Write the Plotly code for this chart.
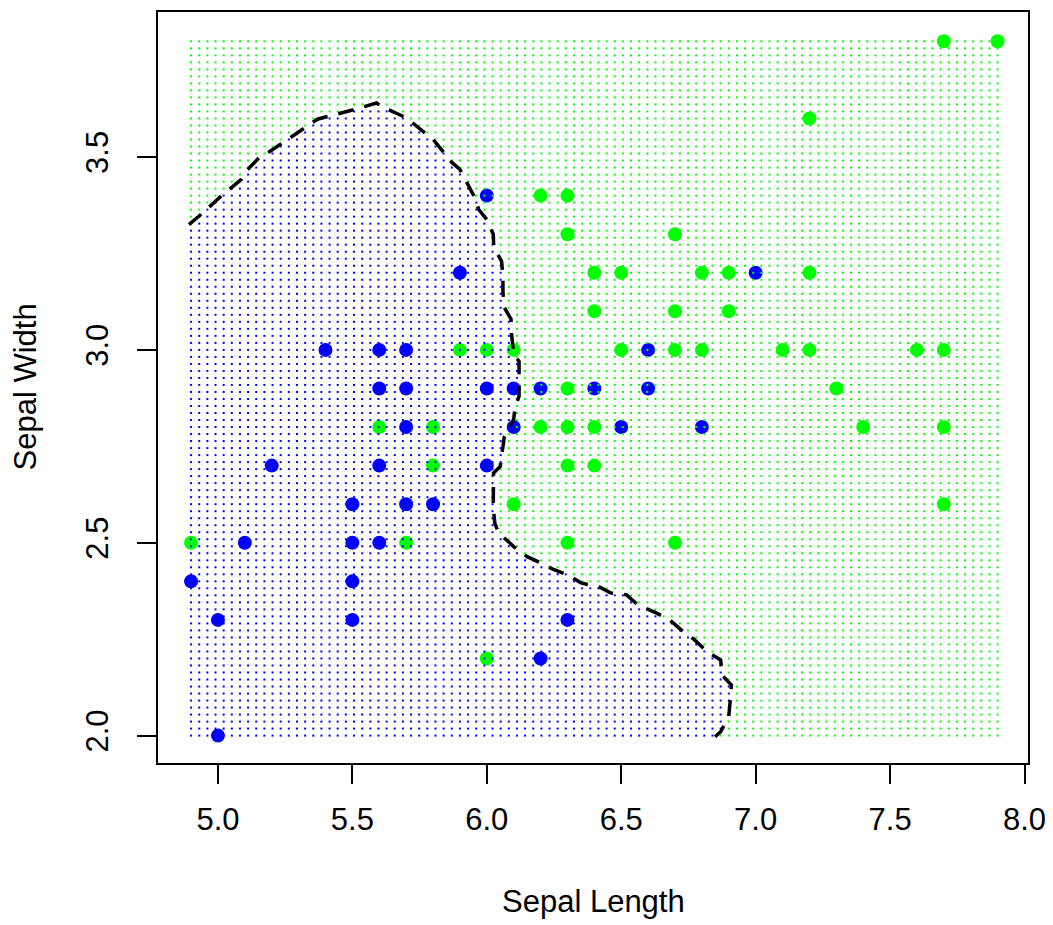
import numpy as np
import plotly.graph_objects as go

# ---- data ----
blue_x = [6.0, 5.9, 7.0, 5.4, 5.6, 5.7, 6.6, 5.6, 5.7, 6.0, 6.1, 6.2, 6.4, 6.6,
          5.7, 6.1, 6.5, 6.8, 5.2, 5.6, 6.0, 5.5, 5.7, 5.8, 5.1, 5.5, 5.6,
          4.9, 5.5, 5.0, 5.5, 6.3, 6.2, 5.0]
blue_y = [3.4, 3.2, 3.2, 3.0, 3.0, 3.0, 3.0, 2.9, 2.9, 2.9, 2.9, 2.9, 2.9, 2.9,
          2.8, 2.8, 2.8, 2.8, 2.7, 2.7, 2.7, 2.6, 2.6, 2.6, 2.5, 2.5, 2.5,
          2.4, 2.4, 2.3, 2.3, 2.3, 2.2, 2.0]

green_x = [7.7, 7.9, 7.2, 6.2, 6.3, 6.3, 6.7, 6.4, 6.5, 6.8, 6.9, 7.2,
           6.4, 6.7, 6.9, 5.9, 6.0, 6.1, 6.5, 6.7, 6.8, 7.1, 7.2, 7.6, 7.7,
           6.3, 7.3, 5.6, 5.8, 6.2, 6.3, 6.4, 7.4, 7.7, 5.8, 6.3, 6.4,
           6.1, 7.7, 4.9, 5.7, 6.3, 6.7, 6.0]
green_y = [3.8, 3.8, 3.6, 3.4, 3.4, 3.3, 3.3, 3.2, 3.2, 3.2, 3.2, 3.2,
           3.1, 3.1, 3.1, 3.0, 3.0, 3.0, 3.0, 3.0, 3.0, 3.0, 3.0, 3.0, 3.0,
           2.9, 2.9, 2.8, 2.8, 2.8, 2.8, 2.8, 2.8, 2.8, 2.7, 2.7, 2.7,
           2.6, 2.6, 2.5, 2.5, 2.5, 2.5, 2.2]

# decision boundary (dashed contour)
boundary_x = [4.892, 4.93, 5.006, 5.087, 5.10, 5.16, 5.19, 5.27, 5.37, 5.49, 5.59,
              5.61, 5.70, 5.80, 5.87, 5.90, 5.93, 5.955, 5.97, 6.00, 6.024, 6.026,
              6.055, 6.06, 6.06, 6.065, 6.09, 6.092, 6.10, 6.12, 6.12, 6.12, 6.105,
              6.10, 6.065, 6.06, 6.05, 6.025, 6.024, 6.024, 6.03, 6.045, 6.10, 6.15,
              6.20, 6.25, 6.30, 6.35, 6.42, 6.46, 6.52, 6.56, 6.63, 6.68, 6.73,
              6.77, 6.82, 6.87, 6.875, 6.91, 6.905, 6.90, 6.87, 6.849]
boundary_y = [3.325, 3.347, 3.395, 3.442, 3.46, 3.503, 3.513, 3.55, 3.598, 3.62, 3.64,
              3.63, 3.602, 3.546, 3.486, 3.468, 3.429, 3.395, 3.364, 3.338, 3.30, 3.266,
              3.23, 3.19, 3.15, 3.11, 3.08, 3.04, 2.99, 2.97, 2.92, 2.88, 2.85,
              2.82, 2.775, 2.747, 2.698, 2.681, 2.64, 2.59, 2.55, 2.525, 2.49, 2.464,
              2.448, 2.43, 2.417, 2.396, 2.385, 2.37, 2.365, 2.34, 2.318, 2.30, 2.27,
              2.25, 2.217, 2.196, 2.157, 2.131, 2.087, 2.05, 2.01, 1.997]

grid_x_range = (4.9, 7.9)
grid_y_range = (2.0, 3.8)
grid_n = 100

x_ticks = [5.0, 5.5, 6.0, 6.5, 7.0, 7.5, 8.0]
x_tick_labels = ["5.0", "5.5", "6.0", "6.5", "7.0", "7.5", "8.0"]
y_ticks = [2.0, 2.5, 3.0, 3.5]
y_tick_labels = ["2.0", "2.5", "3.0", "3.5"]

BLUE = "#0000FF"
GREEN = "#00FF00"
FONT = "Liberation Sans, Arial, sans-serif"
FS = 31

# ---- classify grid by the boundary region ----
gx = np.linspace(grid_x_range[0], grid_x_range[1], grid_n)
gy = np.linspace(grid_y_range[0], grid_y_range[1], grid_n)
GX, GY = np.meshgrid(gx, gy)
px = GX.ravel()
py = GY.ravel()

poly_x = np.array(boundary_x + [boundary_x[-1], 4.7, 4.7])
poly_y = np.array(boundary_y + [1.9, 1.9, boundary_y[0]])


def inside(xs, ys, vx, vy):
    res = np.zeros(xs.shape, dtype=bool)
    n = len(vx)
    j = n - 1
    for i in range(n):
        xi, yi, xj, yj = vx[i], vy[i], vx[j], vy[j]
        cond = ((yi > ys) != (yj > ys))
        with np.errstate(divide="ignore", invalid="ignore"):
            xint = (xj - xi) * (ys - yi) / (yj - yi) + xi
        res ^= cond & (xs < xint)
        j = i
    return res


ins = inside(px, py, poly_x, poly_y)

fig = go.Figure()

fig.add_trace(go.Scatter(x=blue_x, y=blue_y, mode="markers",
                         marker=dict(color=BLUE, size=14, line=dict(width=0)),
                         hoverinfo="skip", showlegend=False))
fig.add_trace(go.Scatter(x=green_x, y=green_y, mode="markers",
                         marker=dict(color=GREEN, size=14, line=dict(width=0)),
                         hoverinfo="skip", showlegend=False))

fig.add_trace(go.Scatter(x=px[ins], y=py[ins], mode="markers",
                         marker=dict(color=BLUE, size=2, symbol="square", line=dict(width=0)),
                         hoverinfo="skip", showlegend=False))
fig.add_trace(go.Scatter(x=px[~ins], y=py[~ins], mode="markers",
                         marker=dict(color=GREEN, size=2, symbol="square", line=dict(width=0)),
                         hoverinfo="skip", showlegend=False))

fig.add_trace(go.Scatter(x=boundary_x, y=boundary_y, mode="lines",
                         line=dict(color="black", width=3.5, dash="16px,11px"),
                         hoverinfo="skip", showlegend=False))

axis_common = dict(showgrid=False, zeroline=False, showline=True, mirror=True,
                   linecolor="black", linewidth=2, ticks="outside", ticklen=19,
                   tickwidth=2, tickcolor="black",
                   tickfont=dict(family=FONT, size=FS, color="black"))

fig.update_xaxes(range=[4.777, 8.013], tickvals=x_ticks, ticktext=x_tick_labels,
                 ticklabelstandoff=9, **axis_common)
fig.update_yaxes(range=[1.929, 3.876], tickvals=y_ticks, ticktext=y_tick_labels,
                 tickangle=-90, ticklabelstandoff=17, **axis_common)

fig.update_layout(
    width=1053, height=925,
    margin=dict(l=158, r=25, t=12, b=162, autoexpand=False),
    plot_bgcolor="white", paper_bgcolor="white",
    font=dict(family=FONT, color="black"),
    annotations=[
        dict(text="Sepal Length", xref="paper", yref="paper", x=0.5, y=0,
             yshift=-138, xanchor="center", yanchor="middle", showarrow=False,
             font=dict(family=FONT, size=FS, color="black")),
        dict(text="Sepal Width", xref="paper", yref="paper", x=0, y=0.5,
             xshift=-133, xanchor="center", yanchor="middle", textangle=-90,
             showarrow=False, font=dict(family=FONT, size=FS, color="black")),
    ],
)

fig.write_html("out.html")
